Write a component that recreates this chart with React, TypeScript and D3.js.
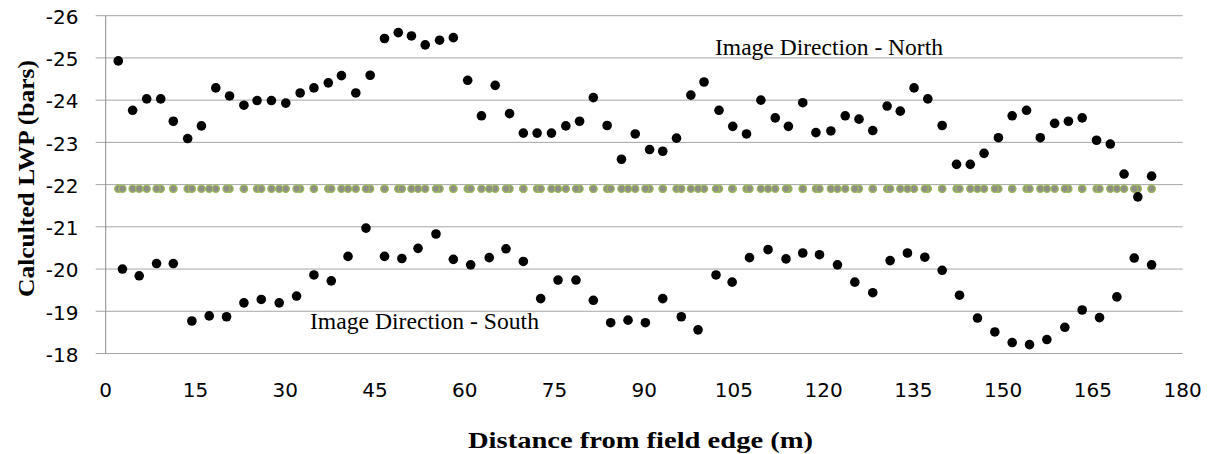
import React from 'react';
import * as d3 from 'd3';

// distance (m) and LWP (bars)
const northX = [2.1, 4.5, 6.85, 9.2, 11.3, 13.7, 16.0, 18.4, 20.7, 23.1,
  25.3, 27.7, 30.1, 32.5, 34.8, 37.2, 39.4, 41.8, 44.2, 46.6,
  48.9, 51.1, 53.4, 55.8, 58.1, 60.5, 62.8, 65.1, 67.5, 69.8,
  72.1, 74.5, 76.9, 79.2, 81.5, 83.8, 86.2, 88.5, 90.9, 93.1,
  95.4, 97.8, 100.0, 102.5, 104.8, 107.1, 109.5, 111.9, 114.1, 116.5,
  118.7, 121.2, 123.6, 125.9, 128.2, 130.6, 132.8, 135.1, 137.4, 139.8,
  142.2, 144.5, 146.8, 149.2, 151.5, 153.9, 156.2, 158.6, 160.9, 163.2,
  165.6, 167.9, 170.2, 172.5, 174.8];
const northY = [-24.93, -23.76, -24.03, -24.03, -23.5, -23.09, -23.39, -24.29, -24.1, -23.88,
  -23.99, -23.99, -23.93, -24.17, -24.29, -24.41, -24.58, -24.17, -24.59, -25.46,
  -25.6, -25.52, -25.31, -25.42, -25.48, -24.47, -23.63, -24.35, -23.68, -23.22,
  -23.22, -23.22, -23.39, -23.5, -24.06, -23.4, -22.6, -23.2, -22.83, -22.79,
  -23.1, -24.12, -24.43, -23.76, -23.38, -23.2, -24.0, -23.58, -23.38, -23.94,
  -23.23, -23.27, -23.63, -23.55, -23.28, -23.86, -23.74, -24.29, -24.03, -23.4,
  -22.48, -22.48, -22.74, -23.11, -23.63, -23.76, -23.11, -23.45, -23.5, -23.58,
  -23.05, -22.96, -22.25, -21.71, -22.2];

const southX = [2.8, 5.6, 8.5, 11.3, 14.4, 17.3, 20.2, 23.1, 26.0, 29.0,
  31.9, 34.8, 37.7, 40.5, 43.5, 46.6, 49.5, 52.2, 55.2, 58.1,
  61.0, 64.1, 66.9, 69.8, 72.7, 75.6, 78.6, 81.5, 84.4, 87.3,
  90.2, 93.1, 96.2, 99.0, 102.0, 104.7, 107.6, 110.7, 113.7, 116.5,
  119.3, 122.3, 125.2, 128.2, 131.1, 134.0, 136.9, 139.8, 142.7, 145.7,
  148.6, 151.5, 154.4, 157.3, 160.3, 163.2, 166.1, 169.0, 171.9, 174.8];
const southY = [-20.0, -19.84, -20.13, -20.13, -18.77, -18.89, -18.87, -19.2, -19.28, -19.2,
  -19.36, -19.86, -19.72, -20.3, -20.97, -20.3, -20.25, -20.49, -20.83, -20.23,
  -20.1, -20.27, -20.48, -20.18, -19.3, -19.74, -19.74, -19.26, -18.73, -18.79,
  -18.73, -19.3, -18.87, -18.56, -19.86, -19.69, -20.27, -20.46, -20.24, -20.38,
  -20.34, -20.1, -19.69, -19.44, -20.2, -20.38, -20.28, -19.97, -19.38, -18.84,
  -18.51, -18.26, -18.21, -18.33, -18.62, -19.03, -18.85, -19.34, -20.26, -20.1];

// the flat green series sits at every sampled distance
const referenceLevel = -21.9;
const referenceX = northX.concat(southX);

const xTicks = [0, 15, 30, 45, 60, 75, 90, 105, 120, 135, 150, 165, 180];
const yTicks = [-26, -25, -24, -23, -22, -21, -20, -19, -18];

export default function App() {
  const width = 1213, height = 454;
  const left = 105.7, right = 1182.7, top = 15.7, bottom = 353.5;

  const x = d3.scaleLinear().domain([0, 180]).range([left, right]);
  const y = d3.scaleLinear().domain([-26, -18]).range([top, bottom]);

  const tickFont = "'DejaVu Sans', sans-serif";
  const serif = "'Liberation Serif', 'Times New Roman', serif";

  return (
    <svg width={width} height={height}
         style={{position: 'absolute', left: 0, top: 0, background: '#fff'}}>
      {yTicks.map(t => (
        <g key={'y' + t}>
          <line x1={left - 10} x2={right} y1={y(t)} y2={y(t)} stroke="#a6a6a6" strokeWidth={1}/>
          <text x={78.5} y={y(t) + 8.3} textAnchor="end" fontFamily={tickFont}
                fontSize={20} fill="#000">{String(t)}</text>
        </g>
      ))}
      <line x1={left} x2={left} y1={top} y2={bottom} stroke="#8c8c8c" strokeWidth={1}/>

      {xTicks.map(t => (
        <text key={'x' + t} x={x(t)} y={397} textAnchor="middle" fontFamily={tickFont}
              fontSize={20} fill="#000">{String(t)}</text>
      ))}

      {referenceX.map((d, i) => (
        <circle key={'r' + i} cx={x(d)} cy={y(referenceLevel)} r={3.6}
                fill="#8e8e86" stroke="#9bbb59" strokeWidth={1.3}/>
      ))}
      {northX.map((d, i) => (
        <circle key={'n' + i} cx={x(d)} cy={y(northY[i])} r={4.8} fill="#000"/>
      ))}
      {southX.map((d, i) => (
        <circle key={'s' + i} cx={x(d)} cy={y(southY[i])} r={4.8} fill="#000"/>
      ))}

      <text x={715} y={55} fontFamily={serif} fontSize={23} textLength={228}
            lengthAdjust="spacingAndGlyphs" fill="#000">Image Direction - North</text>
      <text x={310} y={329} fontFamily={serif} fontSize={23} textLength={229}
            lengthAdjust="spacingAndGlyphs" fill="#000">Image Direction - South</text>

      <text x={640.5} y={448} textAnchor="middle" fontFamily={serif} fontWeight="bold"
            fontSize={23} textLength={345} lengthAdjust="spacingAndGlyphs"
            fill="#000">Distance from field edge (m)</text>
      <text transform="translate(34,178.5) rotate(-90)" textAnchor="middle" fontFamily={serif}
            fontWeight="bold" fontSize={24} textLength={237} lengthAdjust="spacingAndGlyphs"
            fill="#000">Calculted LWP (bars)</text>
    </svg>
  );
}
